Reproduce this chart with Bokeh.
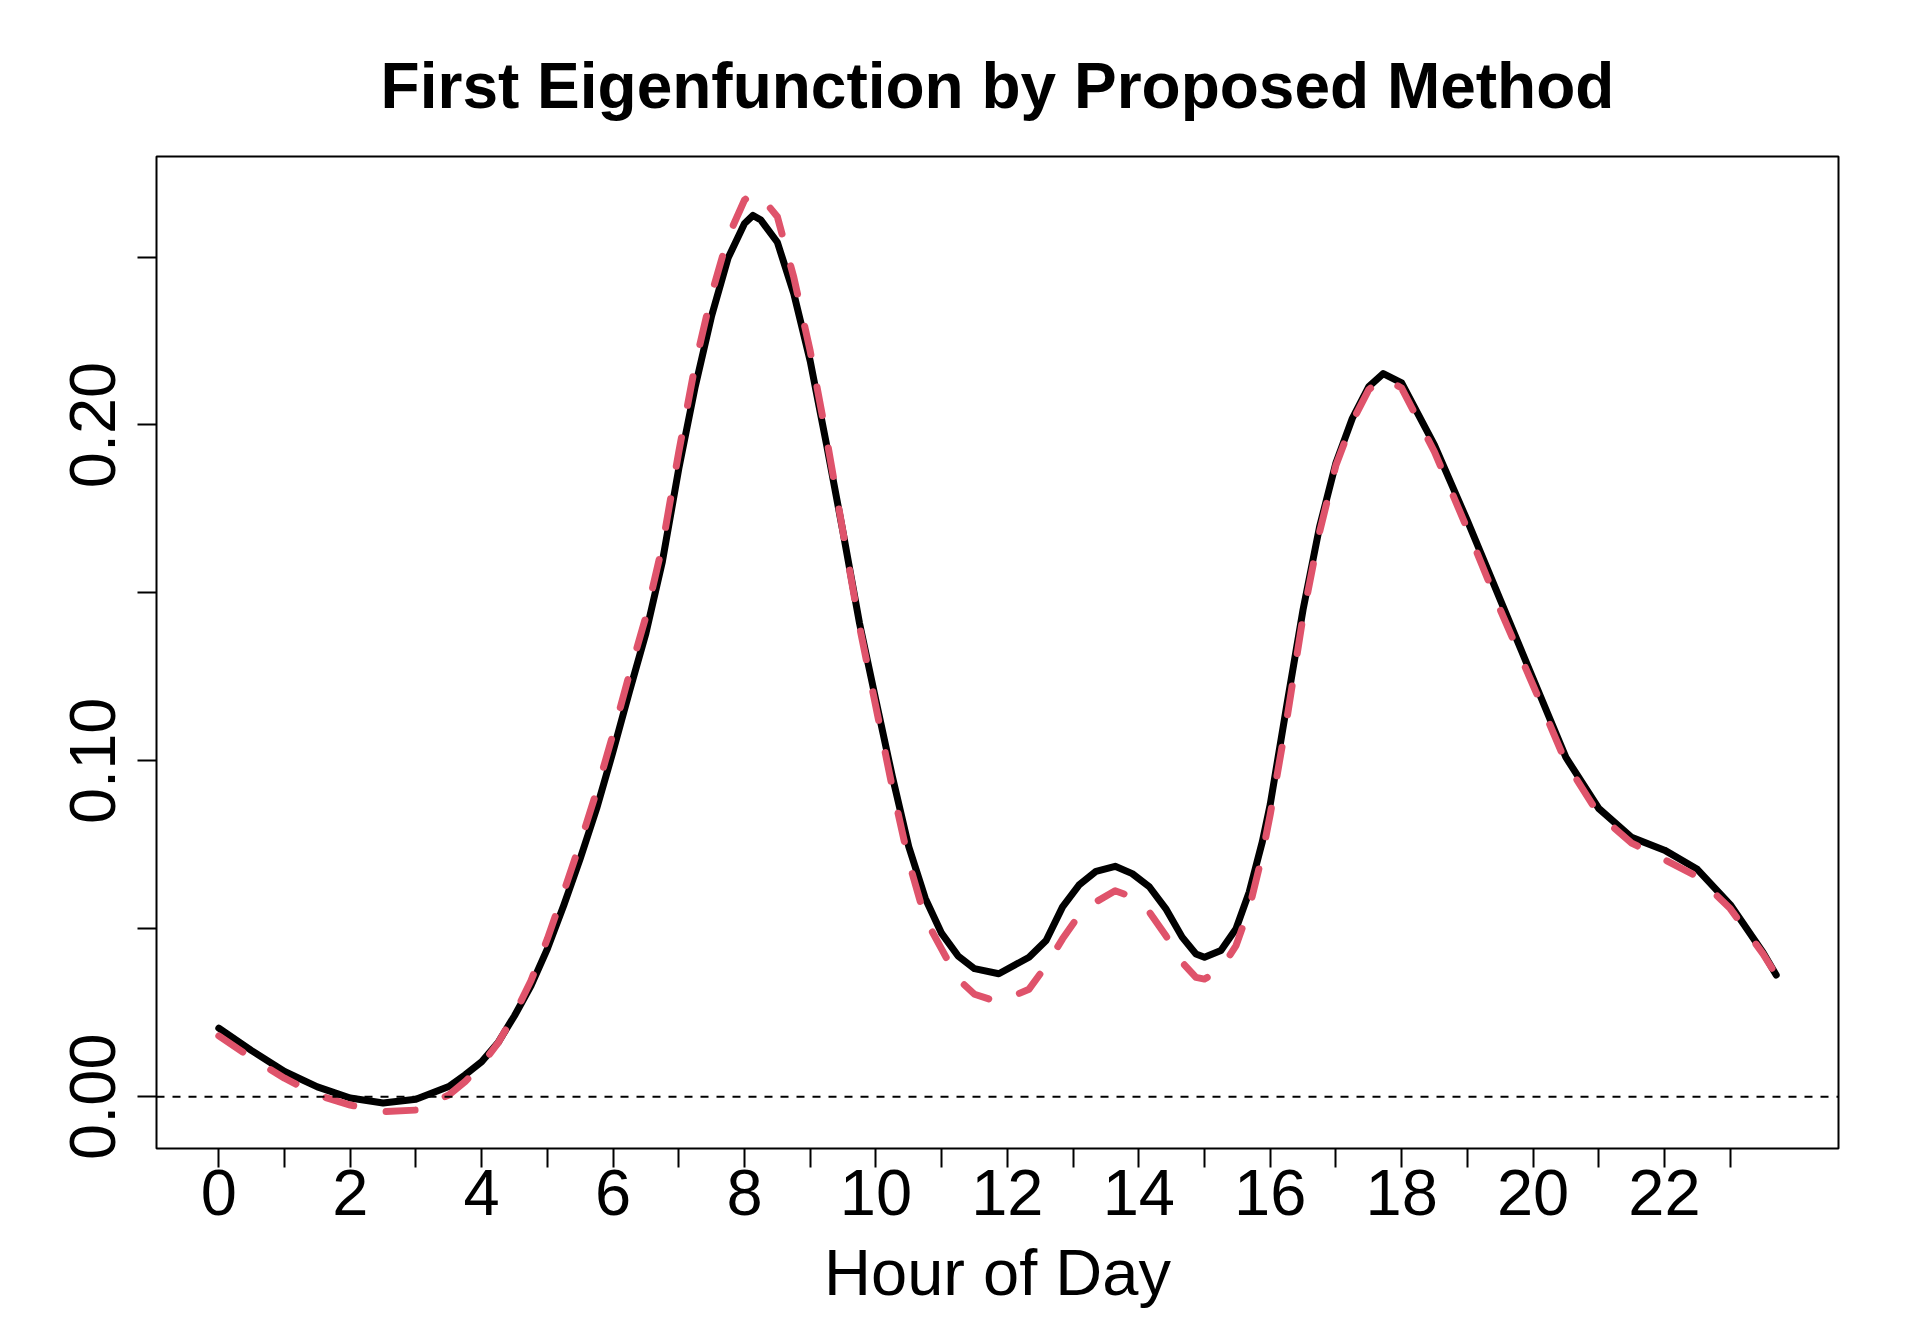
from bokeh.plotting import figure
from bokeh.models import Range1d, FixedTicker, Span
from bokeh.embed import file_html
from bokeh.resources import INLINE

hours = [0, 0.5, 1, 1.5, 2, 2.5, 3, 3.5, 3.75, 4, 4.25, 4.5, 4.75, 5, 5.25, 5.5,
         5.75, 6, 6.25, 6.5, 6.75, 7, 7.25, 7.5, 7.75, 8, 8.13, 8.25, 8.5, 8.75,
         9, 9.25, 9.5, 9.75, 10, 10.25, 10.5, 10.75, 11, 11.25, 11.5, 11.87,
         12.33, 12.59, 12.84, 13.09, 13.35, 13.64, 13.9, 14.16, 14.41, 14.66,
         14.87, 15.0, 15.25, 15.48, 15.68, 15.88, 16.0, 16.25, 16.5, 16.75, 17,
         17.25, 17.5, 17.72, 18, 18.5, 19, 19.5, 20, 20.5, 21, 21.5, 22, 22.5, 23,
         23.5, 23.7]

black_curve = [0.0204, 0.0137, 0.0075, 0.0029, -0.0004, -0.0019, -0.0008, 0.0030,
               0.0065, 0.0104, 0.0161, 0.0241, 0.0330, 0.0440, 0.0570, 0.0709,
               0.0858, 0.1028, 0.1207, 0.1380, 0.1593, 0.1870, 0.2114, 0.2325,
               0.2497, 0.2600, 0.2624, 0.2610, 0.2544, 0.2391, 0.2190, 0.1940,
               0.1680, 0.1410, 0.1180, 0.0953, 0.0744, 0.0591, 0.0486, 0.0419,
               0.0381, 0.0366, 0.0415, 0.0465, 0.0565, 0.0630, 0.0671, 0.0686,
               0.0664, 0.0625, 0.0560, 0.0475, 0.0425, 0.0415, 0.0435, 0.0500,
               0.0609, 0.0759, 0.0870, 0.1163, 0.1450, 0.1696, 0.1887, 0.2020,
               0.2114, 0.2153, 0.2125, 0.1940, 0.1715, 0.1480, 0.1245, 0.1010,
               0.0858, 0.0772, 0.0734, 0.0677, 0.0572, 0.0429, 0.0362]

red_curve = [0.0181, 0.0115, 0.0055, 0.0005, -0.0025, -0.0045, -0.0040, 0.0005,
             0.0045, 0.0095, 0.0160, 0.0245, 0.0345, 0.0470, 0.0610, 0.0755,
             0.0910, 0.1080, 0.1260, 0.1430, 0.1640, 0.1920, 0.2180, 0.2390,
             0.2560, 0.2670, 0.2690, 0.2680, 0.2620, 0.2440, 0.2220, 0.1960,
             0.1680, 0.1400, 0.1160, 0.0920, 0.0700, 0.0530, 0.0439, 0.0350,
             0.0305, 0.0281, 0.0320, 0.0390, 0.0470, 0.0540, 0.0580, 0.0613,
             0.0595, 0.0550, 0.0480, 0.0400, 0.0355, 0.0350, 0.0380, 0.0450,
             0.0560, 0.0720, 0.0840, 0.1120, 0.1430, 0.1680, 0.1880, 0.2010,
             0.2105, 0.2140, 0.2110, 0.1920, 0.1690, 0.1450, 0.1225, 0.0995,
             0.0840, 0.0755, 0.0706, 0.0655, 0.0560, 0.0425, 0.0362]

x_ticks = list(range(0, 24))
x_tick_labels = {t: (str(t) if t % 2 == 0 else "") for t in x_ticks}
y_ticks = [0.0, 0.05, 0.10, 0.15, 0.20, 0.25]
y_tick_labels = {0.0: "0.00", 0.05: "", 0.10: "0.10", 0.15: "", 0.20: "0.20", 0.25: ""}

FONT = "Liberation Sans"

# R-style 4% range extension
xmin, xmax = min(hours), max(hours)
ymin = min(min(black_curve), min(red_curve))
ymax = max(max(black_curve), max(red_curve))
xr = xmax - xmin
yr = ymax - ymin

p = figure(width=1904, height=1336, output_backend="svg", toolbar_location=None,
           x_range=Range1d(xmin - 0.04 * xr, xmax + 0.04 * xr),
           y_range=Range1d(ymin - 0.04 * yr, ymax + 0.04 * yr),
           min_border_left=156, min_border_right=66, min_border_top=156,
           min_border_bottom=188)

p.title.text = "First Eigenfunction by Proposed Method"
p.title.text_font = FONT
p.title.text_font_size = "64px"
p.title.text_font_style = "bold"
p.title.text_color = "black"
p.title.align = "center"
p.title.standoff = 70

p.xgrid.visible = False
p.ygrid.visible = False
p.outline_line_color = "black"
p.outline_line_width = 2
p.background_fill_color = "white"
p.border_fill_color = "white"

for ax in (p.xaxis[0], p.yaxis[0]):
    ax.axis_line_color = None
    ax.major_tick_in = 0
    ax.major_tick_out = 19
    ax.major_tick_line_width = 2
    ax.major_tick_line_color = "black"
    ax.minor_tick_line_color = None
    ax.major_label_text_font = FONT
    ax.major_label_text_font_size = "65px"
    ax.major_label_text_color = "black"

p.xaxis[0].ticker = FixedTicker(ticks=x_ticks)
p.xaxis[0].major_label_overrides = x_tick_labels
p.xaxis[0].major_label_standoff = 2
p.xaxis[0].axis_label = "Hour of Day"
p.xaxis[0].axis_label_text_font = FONT
p.xaxis[0].axis_label_text_font_size = "65px"
p.xaxis[0].axis_label_text_font_style = "normal"
p.xaxis[0].axis_label_text_color = "black"
p.xaxis[0].axis_label_standoff = 18

p.yaxis[0].ticker = FixedTicker(ticks=y_ticks)
p.yaxis[0].major_label_overrides = y_tick_labels
p.yaxis[0].major_label_orientation = "vertical"
p.yaxis[0].major_label_standoff = 22

zero = Span(location=0, dimension="width", line_color="black", line_width=2,
            line_dash="8 8")
p.add_layout(zero)

p.line(hours, black_curve, line_color="black", line_width=7, line_join="round",
       line_cap="round")
p.line(hours, red_curve, line_color="#DF536B", line_width=7, line_dash="29 33",
       line_join="round", line_cap="round")

open("out.html", "w").write(file_html(p, INLINE))
